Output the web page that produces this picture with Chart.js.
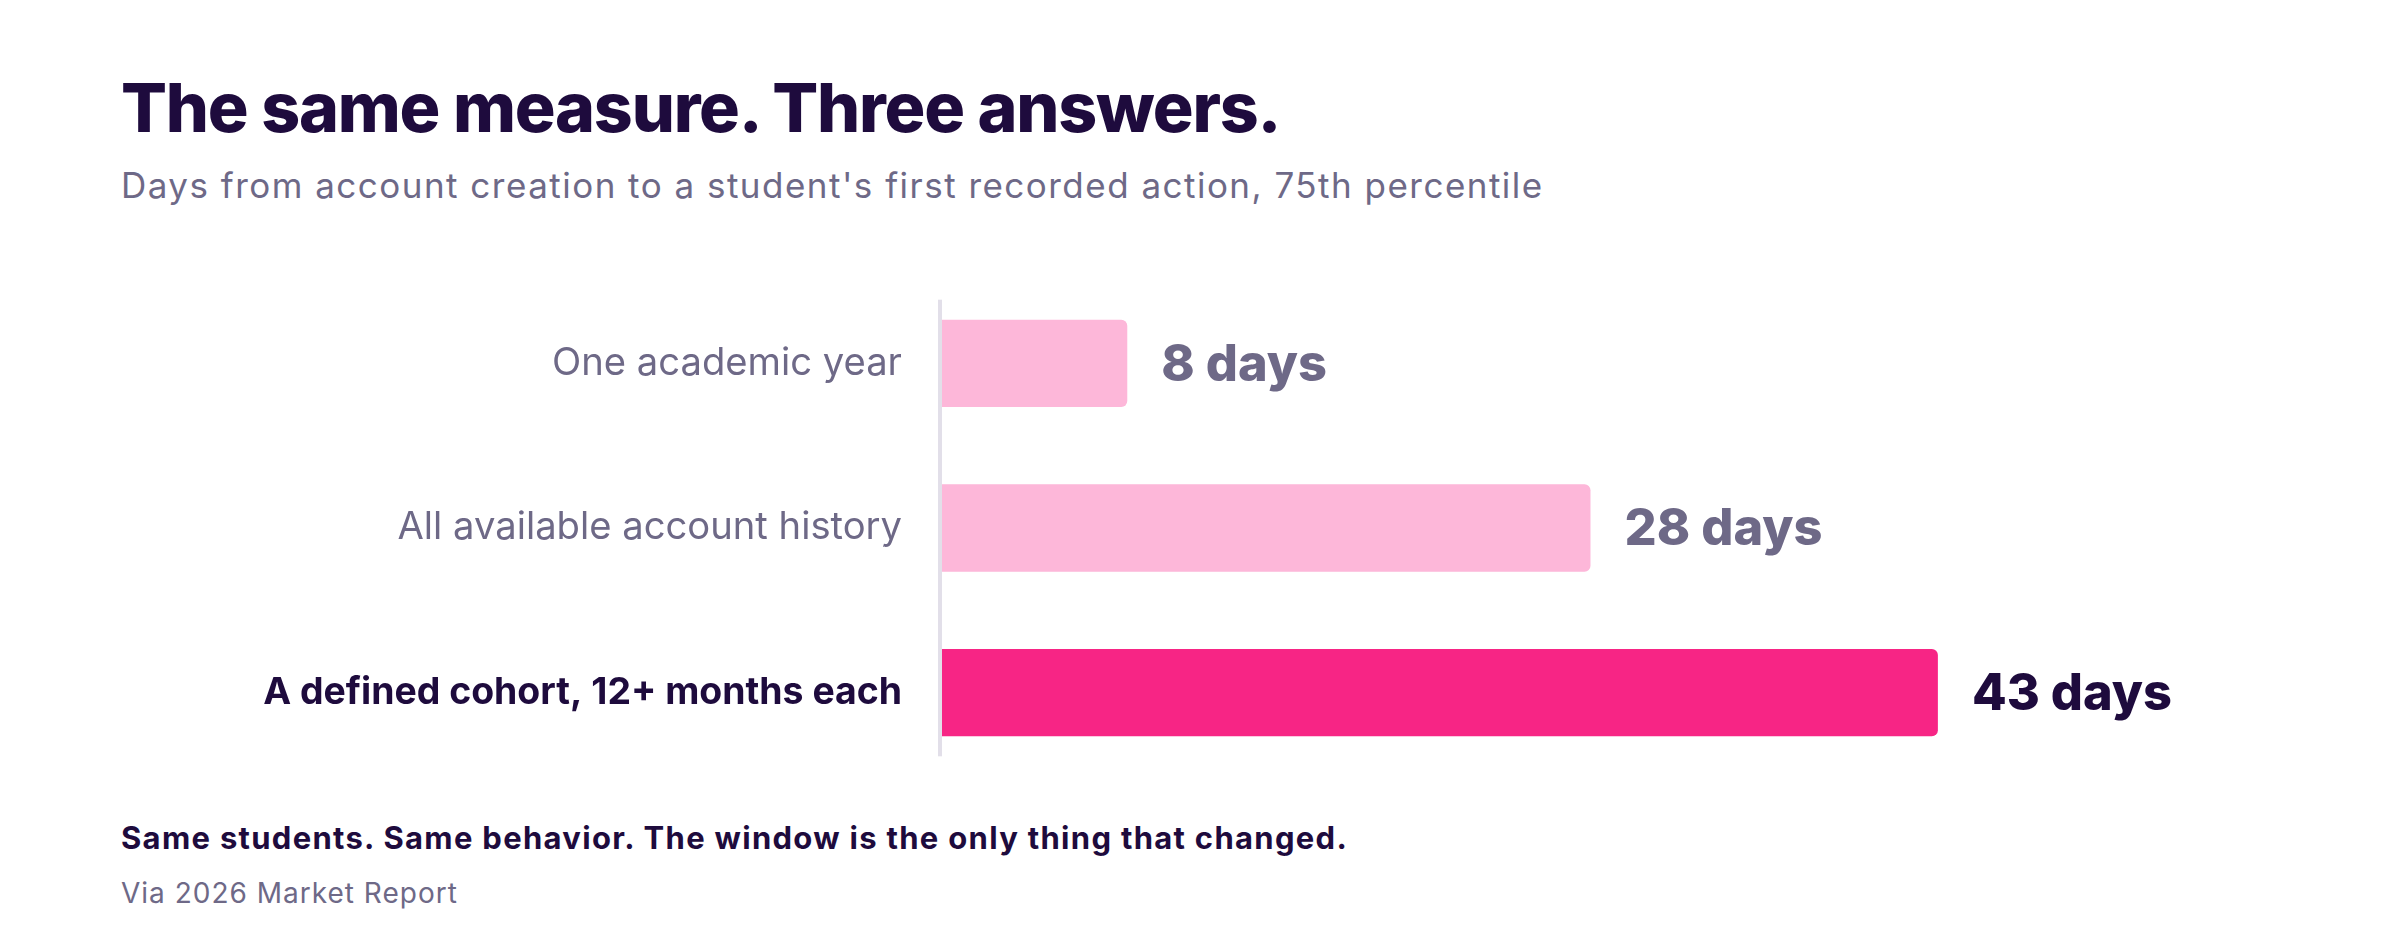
<!DOCTYPE html>
<html>
<head>
<meta charset="utf-8">
<script src="https://cdn.jsdelivr.net/npm/chart.js@4.4.1/dist/chart.umd.min.js"></script>
<style>
    body { margin: 0; width: 2400px; height: 940px; background: #fff; font-family: Inter, "Noto Sans", sans-serif; position: relative; overflow: hidden; }
    .txt { position: absolute; left: 121px; line-height: 1; white-space: nowrap; }
    #title { top: 73px; font-size: 68px; font-weight: 800; color: #1e0b3d; letter-spacing: -1.2px; }
    #subtitle { top: 168px; font-size: 35px; color: #6e6987; letter-spacing: 1.48px; }
    #note { top: 822px; font-size: 31px; font-weight: 700; color: #1e0b3d; letter-spacing: 1.3px; }
    #source { top: 879px; font-size: 28px; color: #6e6987; letter-spacing: 1px; }
    #chart-wrap { position: absolute; left: 0; top: 281px; width: 2400px; height: 494px; }
</style>
</head>
<body>
<div class="txt" id="title">The same measure. Three answers.</div>
<div class="txt" id="subtitle">Days from account creation to a student's first recorded action, 75th percentile</div>
<div id="chart-wrap"><canvas id="bar-chart"></canvas></div>
<div class="txt" id="note">Same students. Same behavior. The window is the only thing that changed.</div>
<div class="txt" id="source">Via 2026 Market Report</div>

<script>
// Data
const categories = ['One academic year', 'All available account history', 'A defined cohort, 12+ months each'];
const days = [8, 28, 43];
const barColors = ['#fdb7d9', '#fdb7d9', '#f72585'];
const valueColors = ['#6e6987', '#6e6987', '#1e0b3d'];
const labelColors = ['#6e6987', '#6e6987', '#1e0b3d'];
const labelWeights = ['400', '400', '700'];
const labelSizes = [38.2, 38.2, 37.4];

// Left axis line + "N days" labels next to bars
const barExtras = {
    id: 'barExtras',
    beforeDatasetsDraw(chart) {
        const bars = chart.getDatasetMeta(0).data;
        const first = bars[0], last = bars[bars.length - 1];
        const ctx = chart.ctx;
        ctx.save();
        ctx.fillStyle = '#e2dfe9';
        const top = first.y - first.height / 2 - 20;
        const bottom = last.y + last.height / 2 + 20;
        ctx.fillRect(chart.chartArea.left - 4, top, 4, bottom - top);
        ctx.restore();
    },
    afterDatasetsDraw(chart) {
        const ctx = chart.ctx;
        ctx.save();
        ctx.font = '800 50.5px Inter, "Noto Sans", sans-serif';
        ctx.textBaseline = 'middle';
        ctx.textAlign = 'left';
        chart.getDatasetMeta(0).data.forEach((bar, i) => {
            ctx.fillStyle = valueColors[i];
            ctx.fillText(days[i] + ' days', bar.x + 34, bar.y + 2);
        });
        ctx.restore();
    }
};

const ctx = document.getElementById('bar-chart').getContext('2d');
new Chart(ctx, {
    type: 'bar',
    data: {
        labels: categories,
        datasets: [{
            data: days,
            backgroundColor: barColors,
            borderRadius: 6,
            borderSkipped: 'start',
            barPercentage: 0.53,
            categoryPercentage: 1
        }]
    },
    options: {
        indexAxis: 'y',
        responsive: true,
        maintainAspectRatio: false,
        animation: false,
        layout: { padding: { left: 0, right: 300, top: 0, bottom: 0 } },
        plugins: {
            legend: { display: false },
            tooltip: { enabled: false }
        },
        scales: {
            x: {
                display: false,
                min: 0,
                max: 50
            },
            y: {
                afterFit(scale) {
                    scale.width = 942;
                    scale.paddingTop = 0;
                    scale.paddingBottom = 0;
                },
                border: { display: false },
                grid: { display: false, drawTicks: false },
                ticks: {
                    padding: 40,
                    color: c => labelColors[c.index],
                    font: c => ({ family: 'Inter, "Noto Sans", sans-serif', size: labelSizes[c.index], weight: labelWeights[c.index] })
                }
            }
        }
    },
    plugins: [barExtras]
});
</script>
</body>
</html>
